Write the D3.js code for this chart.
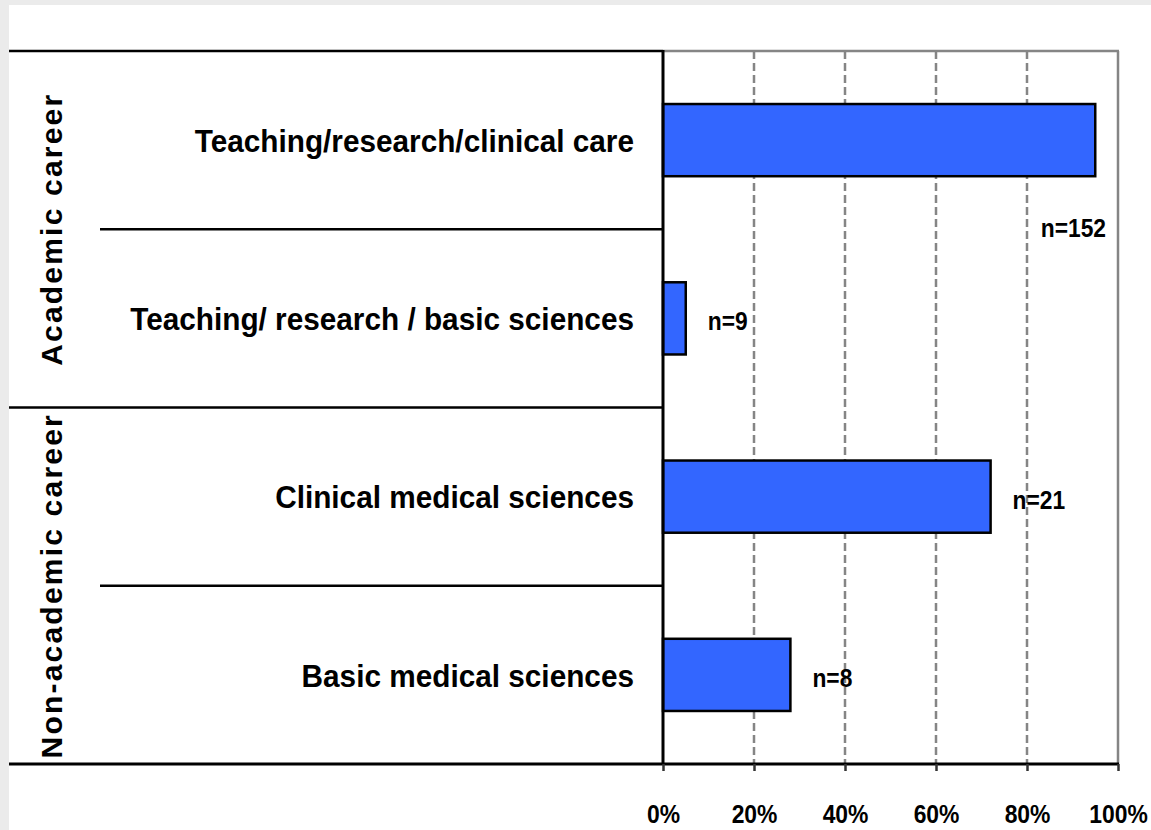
<!DOCTYPE html>
<html>
<head>
<meta charset="utf-8">
<script src="https://cdn.jsdelivr.net/npm/d3@7"></script>
<style>
  body { margin: 0; background: #ebebeb; }
  svg { display: block; font-family: "Liberation Sans", Arial, sans-serif; font-weight: bold; }
</style>
</head>
<body>
<div id="chart"></div>
<script>
var categories = ["Teaching/research/clinical care", "Teaching/ research / basic sciences", "Clinical medical sciences", "Basic medical sciences"];
var groups = ["Academic career", "Non-academic career"];
var groupOf = [0, 0, 1, 1];
var values = [95, 5, 72, 28];
var counts = [152, 9, 21, 8];
var tickValues = [0, 20, 40, 60, 80, 100];

var width = 1151,
    height = 830;

var svg = d3.select("#chart").append("svg")
    .attr("width", width)
    .attr("height", height);

// white panel on the grey page
svg.append("rect")
    .attr("x", 9)
    .attr("y", 5)
    .attr("width", width - 9)
    .attr("height", height - 5)
    .attr("fill", "#fff");

var plot = {left: 663, right: 1118, top: 51, bottom: 764};

var x = d3.scaleLinear()
    .domain([0, 100])
    .range([plot.left, plot.right]);

var y = d3.scaleBand()
    .domain(categories)
    .range([plot.top, plot.bottom])
    .paddingInner(0.595)
    .paddingOuter(0.2975);

var edge = y.step() * y.paddingOuter();
var bounds = categories.map(function(c) { return y(c) - edge; });
bounds.push(plot.bottom);

// grid lines
svg.append("g")
  .selectAll("line")
  .data(tickValues.slice(1))
  .enter().append("line")
    .attr("x1", function(d) { return x(d); })
    .attr("x2", function(d) { return x(d); })
    .attr("y1", plot.top)
    .attr("y2", plot.bottom)
    .attr("stroke", "#858585")
    .attr("stroke-width", 2.5)
    .attr("stroke-dasharray", function(d) { return d === 100 ? null : "8,4"; });

svg.append("line")
    .attr("x1", plot.left)
    .attr("x2", plot.right + 1)
    .attr("y1", plot.top)
    .attr("y2", plot.top)
    .attr("stroke", "#858585")
    .attr("stroke-width", 2.5);

// bars
svg.append("g")
  .selectAll("rect")
  .data(values)
  .enter().append("rect")
    .attr("x", x(0))
    .attr("y", function(d, i) { return y(categories[i]); })
    .attr("width", function(d) { return x(d) - x(0); })
    .attr("height", y.bandwidth())
    .attr("fill", "#3366ff")
    .attr("stroke", "#000")
    .attr("stroke-width", 2.5);

// n labels: right of the bar, or under it when there is no room
function fits(i) { return x(values[i]) + 95 <= plot.right; }

svg.append("g")
    .attr("font-size", 24)
  .selectAll("text")
  .data(counts)
  .enter().append("text")
    .attr("text-anchor", function(d, i) { return fits(i) ? "start" : "end"; })
    .attr("transform", function(d, i) {
      var mid = y(categories[i]) + y.bandwidth() / 2;
      var tx = fits(i) ? x(values[i]) + 22 : plot.right - 12;
      var ty = fits(i) ? mid + 12 : bounds[i + 1] + 8;
      return "translate(" + tx + "," + ty + ") scale(0.95,1.05)";
    })
    .text(function(d) { return "n=" + d; });

// category labels
svg.append("g")
    .attr("font-size", 32)
    .attr("text-anchor", "end")
  .selectAll("text")
  .data(categories)
  .enter().append("text")
    .attr("transform", function(d) { return "translate(634," + (y(d) + y.bandwidth() / 2) + ") scale(0.93,1)"; })
    .attr("dy", "0.37em")
    .text(function(d) { return d; });

// row separators
svg.append("g")
  .selectAll("line")
  .data(bounds)
  .enter().append("line")
    .attr("x1", function(d, i) { return (i === 0 || i === bounds.length - 1 || groupOf[i] !== groupOf[i - 1]) ? 9 : 100; })
    .attr("x2", function(d, i) { return i === bounds.length - 1 ? plot.right + 1 : plot.left; })
    .attr("y1", function(d) { return d; })
    .attr("y2", function(d) { return d; })
    .attr("stroke", "#000")
    .attr("stroke-width", function(d, i) { return i === bounds.length - 1 ? 3 : 2.5; });

// group labels
svg.append("g")
    .attr("font-size", 30)
    .attr("text-anchor", "middle")
    .attr("letter-spacing", 2.2)
  .selectAll("text")
  .data(groups)
  .enter().append("text")
    .attr("transform", function(d, g) {
      var rows = bounds.filter(function(b, i) { return groupOf[i] === g || groupOf[i - 1] === g; });
      var cy = (d3.min(rows) + d3.max(rows)) / 2;
      return "translate(62," + cy + ") rotate(-90)";
    })
    .text(function(d) { return d; });

// value axis
var axis = svg.append("g")
    .attr("transform", "translate(0," + plot.bottom + ")")
    .call(d3.axisBottom(x)
      .tickValues(tickValues)
      .tickFormat(function(d) { return d + "%"; })
      .tickSize(7)
      .tickPadding(34));

axis.select(".domain").remove();
axis.selectAll(".tick line")
    .attr("stroke", "#333")
    .attr("stroke-width", 2.5);
axis.selectAll(".tick text")
    .attr("font-family", "Liberation Sans, Arial, sans-serif")
    .attr("font-weight", "bold")
    .attr("font-size", 26)
    .attr("fill", "#000")
    .attr("transform", "scale(0.88,1)");

svg.append("line")
    .attr("x1", plot.left)
    .attr("x2", plot.left)
    .attr("y1", plot.top - 1)
    .attr("y2", plot.bottom)
    .attr("stroke", "#000")
    .attr("stroke-width", 3);
</script>
</body>
</html>
